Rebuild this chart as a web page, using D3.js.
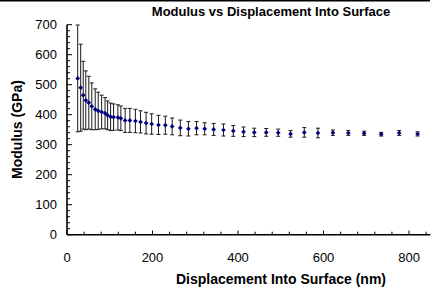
<!DOCTYPE html>
<html>
<head>
<meta charset="utf-8">
<script src="https://cdn.jsdelivr.net/npm/d3@7"></script>
<style>
body { margin: 0; background: #fff; }
text { font-family: Arial, "Liberation Sans", sans-serif; fill: #000; }
</style>
</head>
<body>
<script>
// valores
var displacement = [25,32,38,44,51,58,66,73,81,89,95,102,109,119,126,136,147,160,172,185,198,214,230,246,265,284,303,322,343,366,389,413,438,466,494,523,555,587,622,658,695,735,777,820];
var modulus = [521,490,465,448,440,428,418,413,409,405,398,393,392,391,388,381,381,379,376,372,369,366,365,361,356,353,355,353,351,349,346,343,341,341,340,336,341,339,340,339,338,335,339,336];
var stdDev = [178,145,113,98,88,78,68,62,56,52,48,46,44,42,41,40,40,39,37,36,34,32,30,28,26,24,22,20,20,20,18,16,14,13,12,11,16,16,9,8,7,6,8,7];
var xTicks = [0,200,400,600,800];
var yTicks = [0,100,200,300,400,500,600,700];

var data = displacement.map(function(d, i) {
	return {x: d, y: modulus[i], e: stdDev[i]};
});

var svg = d3.select("body").append("svg")
	.attr("width", 432).attr("height", 288);

// linea negra arriba
svg.append("line")
	.attr("x1", 0).attr("x2", 430).attr("y1", 0.5).attr("y2", 0.5)
	.attr("stroke", "#000").attr("stroke-width", 2);

var x = d3.scaleLinear().domain([0, 850]).range([67, 430.4]);
var y = d3.scaleLinear().domain([0, 700]).range([234.7, 24.7]);

// ticks menores y mayores (hacia adentro)
svg.selectAll("line.ymin")
	.data(d3.range(0, 701, 20)).enter().append("line")
	.attr("class", "ymin")
	.attr("x1", 67).attr("x2", d => d % 100 == 0 ? 72 : 70)
	.attr("y1", d => y(d)).attr("y2", d => y(d))
	.attr("stroke", "#000").attr("stroke-width", 1);

svg.selectAll("line.xmin")
	.data(d3.range(0, 850, 40)).enter().append("line")
	.attr("class", "xmin")
	.attr("x1", d => x(d)).attr("x2", d => x(d))
	.attr("y1", 234.7).attr("y2", d => d % 200 == 0 ? 230.5 : 231.7)
	.attr("stroke", "#000").attr("stroke-width", 1);

// ejes
svg.append("line")
	.attr("x1", 67).attr("x2", 67).attr("y1", y(0)).attr("y2", y(700))
	.attr("stroke", "#000").attr("stroke-width", 1.6);
svg.append("line")
	.attr("x1", 67).attr("x2", x(850)).attr("y1", y(0)).attr("y2", y(0))
	.attr("stroke", "#000").attr("stroke-width", 1.6);

svg.selectAll("text.ylab")
	.data(yTicks).enter().append("text")
	.attr("class", "ylab")
	.attr("text-anchor", "end")
	.attr("x", 57)
	.attr("y", d => y(d) + 4.6)
	.style("font-size", "13px")
	.text(d => d);

svg.selectAll("text.xlab")
	.data(xTicks).enter().append("text")
	.attr("class", "xlab")
	.attr("text-anchor", "middle")
	.attr("x", d => x(d))
	.attr("y", 261.5)
	.style("font-size", "13px")
	.text(d => d);

// barras de error
var eb = svg.append("g").attr("stroke", "#1a1a1a").attr("stroke-width", 1);
eb.selectAll("line.bar")
	.data(data).enter().append("line")
	.attr("class", "bar")
	.attr("x1", d => x(d.x)).attr("x2", d => x(d.x))
	.attr("y1", d => y(Math.min(700, d.y + d.e))).attr("y2", d => y(d.y - d.e));
eb.selectAll("line.top")
	.data(data).enter().append("line")
	.attr("class", "top")
	.attr("x1", d => x(d.x) - 2).attr("x2", d => x(d.x) + 2)
	.attr("y1", d => y(Math.min(700, d.y + d.e))).attr("y2", d => y(Math.min(700, d.y + d.e)));
eb.selectAll("line.bot")
	.data(data).enter().append("line")
	.attr("class", "bot")
	.attr("x1", d => x(d.x) - 2).attr("x2", d => x(d.x) + 2)
	.attr("y1", d => y(d.y - d.e)).attr("y2", d => y(d.y - d.e));

// marcadores
svg.selectAll("path.pt")
	.data(data).enter().append("path")
	.attr("class", "pt")
	.attr("d", d3.symbol().type(d3.symbolSquare).size(11))
	.attr("transform", d => "translate(" + x(d.x) + "," + y(d.y) + ") rotate(45)")
	.attr("fill", "#000080");

// titulos
svg.append("text")
	.attr("text-anchor", "middle")
	.attr("x", 271).attr("y", 16)
	.style("font-size", "13px").style("font-weight", "bold")
	.text("Modulus vs Displacement Into Surface");

svg.append("text")
	.attr("text-anchor", "middle")
	.attr("x", 281).attr("y", 284)
	.style("font-size", "14px").style("font-weight", "bold")
	.text("Displacement Into Surface (nm)");

svg.append("text")
	.attr("text-anchor", "middle")
	.attr("transform", "translate(22,129.5) rotate(-90)")
	.style("font-size", "14px").style("font-weight", "bold")
	.text("Modulus (GPa)");
</script>
</body>
</html>
